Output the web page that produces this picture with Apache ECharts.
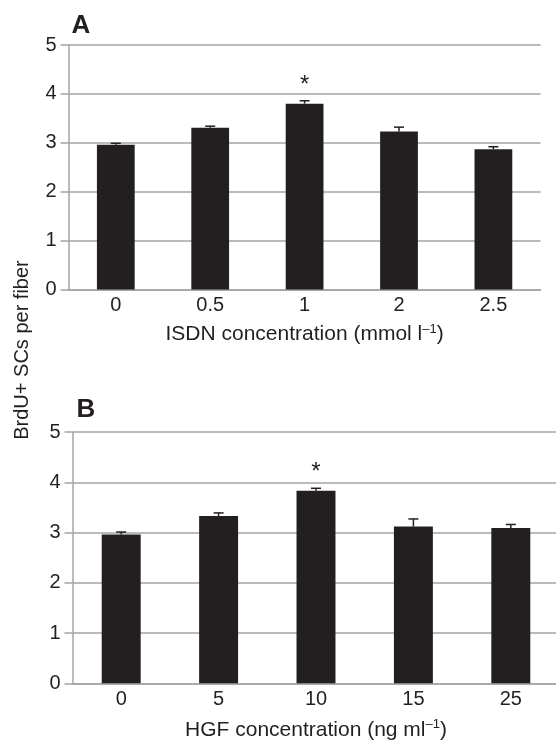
<!DOCTYPE html>
<html>
<head>
<meta charset="utf-8">
<style>
  html, body { margin: 0; padding: 0; background: #fff; }
  #chart { width: 556px; height: 741px; }
</style>
<script src="https://cdn.jsdelivr.net/npm/echarts@6/dist/echarts.min.js"></script>
</head>
<body>
<div id="chart"></div>
<script>
// panel A - ISDN
const isdnDoses = ['0', '0.5', '1', '2', '2.5'];
const isdnMeans = [2.96, 3.31, 3.80, 3.23, 2.87];
const isdnErrors = [0.03, 0.03, 0.06, 0.09, 0.05];
const isdnStars = [2];

// panel B - HGF
const hgfDoses = ['0', '5', '10', '15', '25'];
const hgfMeans = [2.96, 3.33, 3.83, 3.12, 3.09];
const hgfErrors = [0.05, 0.06, 0.05, 0.15, 0.07];
const hgfStars = [2];

// shared y scale
const yMin = 0;
const yMax = 5;
const yStep = 1;

const FONT = 'Liberation Sans, Arial, sans-serif';
const INK = '#231f20';
const GRID_GREY = '#a4a4a4';

function barData(means, stars) {
    return means.map((v, i) => stars.includes(i) ? { value: v, label: { show: true } } : v);
}

function errData(means, errs) {
    return means.map((m, i) => [i, m, m + errs[i]]);
}

// upward error bar with a small cap
function renderErr(params, api) {
    const base = api.coord([api.value(0), api.value(1)]);
    const top = api.coord([api.value(0), api.value(2)]);
    const half = 5;
    const style = { stroke: INK, lineWidth: 1.5 };
    return {
        type: 'group',
        children: [
            { type: 'line', shape: { x1: top[0], y1: base[1], x2: top[0], y2: top[1] }, style: style },
            { type: 'line', shape: { x1: top[0] - half, y1: top[1], x2: top[0] + half, y2: top[1] }, style: style }
        ]
    };
}

function xAxisOf(idx, cats, name, gap) {
    return {
        type: 'category',
        gridIndex: idx,
        data: cats,
        axisLine: { lineStyle: { color: GRID_GREY, width: 1.5 } },
        axisTick: { show: false },
        axisLabel: { fontSize: 20, color: INK, fontFamily: FONT, margin: 6 },
        splitLine: { show: false },
        name: name,
        nameLocation: 'middle',
        nameGap: gap,
        nameTextStyle: {
            fontSize: 21, color: INK, fontFamily: FONT, lineHeight: 24,
            rich: { sup: { fontSize: 13, color: INK, fontFamily: FONT, verticalAlign: 'top', lineHeight: 14 } }
        }
    };
}

function yAxisOf(idx) {
    return {
        type: 'value',
        gridIndex: idx,
        min: yMin,
        max: yMax,
        interval: yStep,
        axisLine: { show: true, lineStyle: { color: GRID_GREY, width: 1.5 } },
        axisTick: { show: true, length: 8, lineStyle: { color: GRID_GREY, width: 1.5 } },
        axisLabel: { fontSize: 20, color: INK, fontFamily: FONT, margin: 12 },
        splitLine: { show: true, lineStyle: { color: GRID_GREY, width: 1.5 } }
    };
}

function barSeries(idx, means, stars) {
    return {
        type: 'bar',
        xAxisIndex: idx,
        yAxisIndex: idx,
        barWidth: '40%',
        itemStyle: { color: INK },
        label: { show: false, position: 'top', formatter: '*', fontSize: 24, color: INK, fontFamily: FONT, distance: 6 },
        data: barData(means, stars)
    };
}

function errSeries(idx, means, errs) {
    return {
        type: 'custom',
        xAxisIndex: idx,
        yAxisIndex: idx,
        renderItem: renderErr,
        encode: { x: 0, y: [1, 2] },
        z: 3,
        data: errData(means, errs)
    };
}

const chart = echarts.init(document.getElementById('chart'), null, { renderer: 'canvas' });

chart.setOption({
    animation: false,
    backgroundColor: '#fff',
    grid: [
        { left: 68.6, top: 45, width: 472, height: 244.5, outerBoundsMode: 'none', containLabel: false },
        { left: 72.5, top: 432, width: 487, height: 251.3, outerBoundsMode: 'none', containLabel: false }
    ],
    xAxis: [
        xAxisOf(0, isdnDoses, 'ISDN concentration (mmol l{sup|–1})', 33),
        xAxisOf(1, hgfDoses, 'HGF concentration (ng ml{sup|–1})', 35)
    ],
    yAxis: [yAxisOf(0), yAxisOf(1)],
    series: [
        barSeries(0, isdnMeans, isdnStars),
        errSeries(0, isdnMeans, isdnErrors),
        barSeries(1, hgfMeans, hgfStars),
        errSeries(1, hgfMeans, hgfErrors)
    ],
    graphic: [
        {
            type: 'text', x: 81, y: 26,
            style: { text: 'A', font: 'bold 26px ' + FONT, fill: INK, align: 'center', verticalAlign: 'middle' }
        },
        {
            type: 'text', x: 86, y: 410,
            style: { text: 'B', font: 'bold 26px ' + FONT, fill: INK, align: 'center', verticalAlign: 'middle' }
        },
        {
            type: 'text', x: 22.5, y: 350, rotation: Math.PI / 2,
            style: { text: 'BrdU+ SCs per fiber', font: '20px ' + FONT, fill: INK, align: 'center', verticalAlign: 'middle' }
        }
    ]
});
</script>
</body>
</html>
